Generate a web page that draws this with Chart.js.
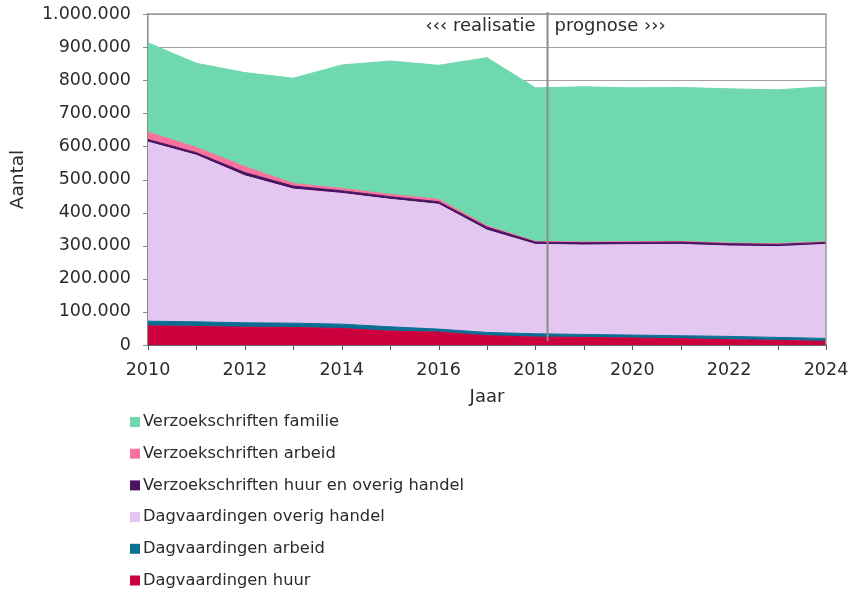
<!DOCTYPE html>
<html>
<head>
<meta charset="utf-8">
<script src="https://cdn.jsdelivr.net/npm/chart.js@4/dist/chart.umd.min.js"></script>
<style>
  html, body { margin: 0; padding: 0; background: #fff; }
  #wrap { position: relative; width: 851px; height: 591px; }
</style>
</head>
<body>
<div id="wrap"><canvas id="c" width="851" height="591"></canvas></div>
<script>
// Years on the horizontal axis
const years = [2010, 2011, 2012, 2013, 2014, 2015, 2016, 2017, 2018, 2019, 2020, 2021, 2022, 2023, 2024];

// Case counts per type (stacked from bottom to top)
const dagvaardingenHuur        = [58000, 56000, 54000, 53000, 50000, 42000, 39000, 28000, 24000, 23000, 21000, 19000, 16000, 14000, 11000];
const dagvaardingenArbeid      = [14000, 14000, 13000, 13000, 13000, 13000, 9000, 10000, 10000, 9000, 9000, 9000, 10000, 9000, 9000];
const dagvaardingenOverig      = [541000, 503000, 444000, 405000, 395000, 385000, 377000, 309000, 270000, 270000, 273000, 276000, 273000, 274000, 284000];
const verzoekHuurOverig        = [8000, 8000, 10000, 9000, 8000, 8000, 8000, 9000, 7000, 7000, 7000, 7000, 7000, 7000, 6000];
const verzoekArbeid            = [22000, 16000, 18000, 8000, 7000, 7000, 7000, 4000, 2000, 2000, 2000, 2000, 2000, 2000, 2000];
const verzoekFamilie           = [270000, 254000, 284000, 318000, 373000, 403000, 405000, 508000, 464000, 469000, 465000, 465000, 466000, 465000, 468000];

// Series names, bottom to top
const seriesNames = [
  'Dagvaardingen huur',
  'Dagvaardingen arbeid',
  'Dagvaardingen overig handel',
  'Verzoekschriften huur en overig handel',
  'Verzoekschriften arbeid',
  'Verzoekschriften familie'
];

// Y tick values and the split between realised and forecast years
const yTicks = [0, 100000, 200000, 300000, 400000, 500000, 600000, 700000, 800000, 900000, 1000000];
const splitYear = 2018.25;
const leftText = '\u2039\u2039\u2039 realisatie';
const rightText = 'prognose \u203A\u203A\u203A';

const seriesValues = [dagvaardingenHuur, dagvaardingenArbeid, dagvaardingenOverig, verzoekHuurOverig, verzoekArbeid, verzoekFamilie];
const seriesColors = ['#cc003d', '#0b6f94', '#e4c7f1', '#4b1462', '#f7739d', '#6fd8ae'];

const FONT = 'DejaVu Sans';
const TEXT = '#2b2b2b';

function fmt(v) {
  return String(Math.round(v)).replace(/\B(?=(\d{3})+(?!\d))/g, '.');
}

const datasets = seriesValues.map((vals, i) => ({
  label: seriesNames[i],
  data: vals.map((v, k) => ({ x: years[k], y: v })),
  backgroundColor: seriesColors[i],
  borderColor: seriesColors[i],
  borderWidth: 1,
  pointRadius: 0,
  pointHoverRadius: 0,
  tension: 0,
  fill: i === 0 ? 'origin' : '-1'
}));

// Short tick marks, split line, period labels and plot frame
const overlay = {
  id: 'overlay',
  afterDatasetsDraw(chart) {
    const { ctx, chartArea: a, scales } = chart;
    ctx.save();
    // y tick marks
    ctx.strokeStyle = '#8a8a8a';
    ctx.lineWidth = 1;
    ctx.beginPath();
    yTicks.forEach(v => {
      const y = Math.round(scales.y.getPixelForValue(v)) + 0.5;
      ctx.moveTo(a.left - 5, y);
      ctx.lineTo(a.left, y);
    });
    ctx.stroke();
    // x tick marks
    ctx.strokeStyle = '#555';
    ctx.beginPath();
    years.forEach(v => {
      const x = Math.round(scales.x.getPixelForValue(v)) + 0.5;
      ctx.moveTo(x, a.bottom);
      ctx.lineTo(x, a.bottom + 5);
    });
    ctx.stroke();
    // frame (top and right edges)
    ctx.strokeStyle = '#9a9a9a';
    ctx.lineWidth = 1.5;
    ctx.beginPath();
    ctx.moveTo(a.left, a.top);
    ctx.lineTo(a.right, a.top);
    ctx.lineTo(a.right, a.bottom);
    ctx.stroke();
    // split line
    const x = scales.x.getPixelForValue(splitYear);
    ctx.strokeStyle = '#8c8c8c';
    ctx.lineWidth = 2;
    ctx.beginPath();
    ctx.moveTo(x, a.top - 2);
    ctx.lineTo(x, a.bottom - 4);
    ctx.stroke();
    // period labels
    ctx.fillStyle = TEXT;
    ctx.font = '18px "' + FONT + '"';
    ctx.textBaseline = 'middle';
    ctx.textAlign = 'right';
    ctx.fillText(leftText, x - 12, a.top + 12);
    ctx.textAlign = 'left';
    ctx.fillText(rightText, x + 7, a.top + 12);
    ctx.restore();
  }
};

// Vertical legend below the plot, top series first
const legendList = {
  id: 'legendList',
  afterDraw(chart) {
    const { ctx } = chart;
    const items = chart.data.datasets.slice().reverse();
    ctx.save();
    ctx.font = '16.3px "' + FONT + '"';
    ctx.textBaseline = 'middle';
    ctx.textAlign = 'left';
    items.forEach((ds, i) => {
      const y = 422 + i * 31.7;
      ctx.fillStyle = ds.backgroundColor;
      ctx.fillRect(130, y - 5, 10, 10);
      ctx.fillStyle = TEXT;
      ctx.fillText(ds.label, 143, y);
    });
    ctx.restore();
  }
};

new Chart(document.getElementById('c'), {
  type: 'line',
  data: { datasets },
  plugins: [overlay, legendList],
  options: {
    responsive: false,
    animation: false,
    events: [],
    layout: { padding: { left: 0, right: 25, top: 14, bottom: 176 } },
    plugins: {
      legend: { display: false },
      tooltip: { enabled: false }
    },
    scales: {
      x: {
        type: 'linear',
        min: years[0],
        max: years[years.length - 1],
        afterFit(scale) { scale.height = 70; },
        afterBuildTicks(scale) { scale.ticks = years.map(v => ({ value: v })); },
        ticks: {
          color: TEXT,
          font: { family: FONT, size: 17.5 },
          padding: 0,
          maxRotation: 0,
          autoSkip: false,
          callback: (v) => (v % 2 === 0 ? String(v) : '')
        },
        grid: {
          drawOnChartArea: false,
          tickLength: 15,
          tickColor: 'rgba(0,0,0,0)'
        },
        border: { color: '#333', width: 1.5 },
        title: {
          display: true,
          text: 'Jaar',
          color: TEXT,
          font: { family: FONT, size: 18 },
          padding: { top: 7, bottom: 7 }
        }
      },
      y: {
        stacked: true,
        min: 0,
        max: 1000000,
        afterFit(scale) { scale.width = 148; },
        afterBuildTicks(scale) { scale.ticks = yTicks.map(v => ({ value: v })); },
        ticks: {
          color: TEXT,
          font: { family: FONT, size: 17.5 },
          padding: 0,
          callback: (v) => fmt(v)
        },
        grid: {
          color: '#444',
          lineWidth: 1,
          tickLength: 17,
          tickColor: 'rgba(0,0,0,0)'
        },
        border: { color: '#8a8a8a', width: 1.5, dash: [1, 1] },
        title: {
          display: true,
          text: 'Aantal',
          color: TEXT,
          font: { family: FONT, size: 18.5 },
          padding: { top: 7, bottom: 7 }
        }
      }
    }
  }
});
</script>
</body>
</html>
